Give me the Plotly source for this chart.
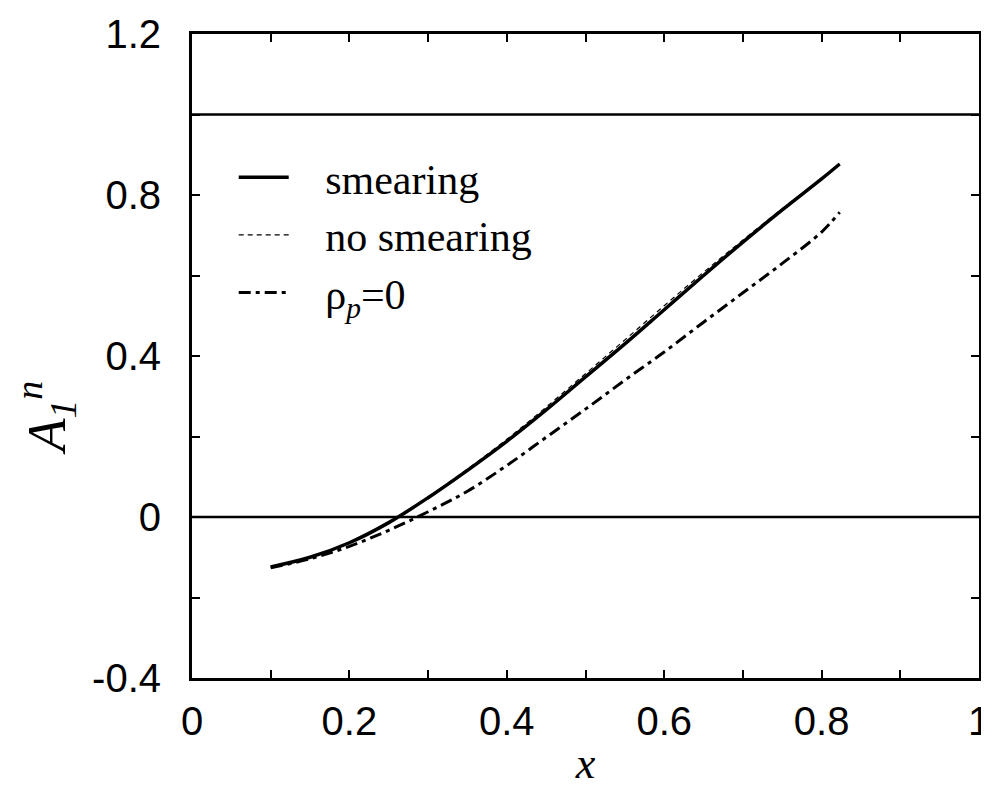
import plotly.graph_objects as go

x_vals = [0.10, 0.15, 0.20, 0.25, 0.30, 0.35, 0.40, 0.45, 0.50, 0.55, 0.60, 0.65, 0.70, 0.75, 0.80, 0.823]
smearing = [-0.124, -0.100, -0.064, -0.014, 0.048, 0.116, 0.188, 0.266, 0.348, 0.430, 0.515, 0.600, 0.683, 0.763, 0.840, 0.877]
no_smearing = [-0.124, -0.100, -0.063, -0.012, 0.050, 0.119, 0.193, 0.273, 0.356, 0.440, 0.525, 0.608, 0.688, 0.766, 0.840, 0.877]
rho_zero = [-0.126, -0.104, -0.073, -0.033, 0.013, 0.064, 0.128, 0.198, 0.268, 0.340, 0.410, 0.484, 0.557, 0.630, 0.708, 0.757]

y_ticks = [-0.4, -0.2, 0.0, 0.2, 0.4, 0.6, 0.8, 1.0, 1.2]
y_ticktext = ["-0.4", "", "0", "", "0.4", "", "0.8", "", "1.2"]
x_ticks = [0.0, 0.1, 0.2, 0.3, 0.4, 0.5, 0.6, 0.7, 0.8, 0.9, 1.0]
x_ticktext = ["0", "", "0.2", "", "0.4", "", "0.6", "", "0.8", "", "1"]
ref_levels = [0.0, 1.0]

gap = "&nbsp;" * 3

fig = go.Figure()
fig.add_trace(go.Scatter(x=x_vals, y=smearing, mode="lines", name=gap + "smearing",
                         line=dict(color="black", width=3.5, shape="spline")))
fig.add_trace(go.Scatter(x=x_vals, y=no_smearing, mode="lines", name=gap + "no smearing",
                         line=dict(color="black", width=1.2, dash="5px,4px", shape="spline")))
fig.add_trace(go.Scatter(x=x_vals, y=rho_zero, mode="lines", name=gap + "ρ<sub><i>p</i></sub>=0",
                         line=dict(color="black", width=3, dash="12px,5px,4px,5px", shape="spline")))

for lv in ref_levels:
    fig.add_hline(y=lv, line=dict(color="black", width=2.5))

axis_common = dict(showgrid=False, zeroline=False, showline=True, linecolor="black",
                   linewidth=3, mirror="ticks", ticks="inside", ticklen=8, tickwidth=2,
                   tickcolor="black", automargin=False, ticklabeloverflow="allow",
                   tickfont=dict(family="Liberation Sans", size=40, color="black"))

fig.update_xaxes(range=[0, 1], tickvals=x_ticks, ticktext=x_ticktext, ticklabelstandoff=6,
                 title=dict(text="<i>x</i>", font=dict(family="Liberation Serif", size=44, color="black"), standoff=6),
                 **axis_common)
fig.update_yaxes(range=[-0.4, 1.2], tickvals=y_ticks, ticktext=y_ticktext, ticklabelstandoff=20,
                 **axis_common)

fig.add_annotation(text="<i>A</i><sub><i>1</i></sub><sup><i>n</i></sup>", xref="paper", yref="paper",
                   x=-0.185, y=0.405, xanchor="center", yanchor="middle",
                   textangle=-90, showarrow=False, borderpad=0,
                   font=dict(family="Liberation Serif", size=54, color="black"))

fig.update_layout(
    width=981, height=791,
    margin=dict(l=184, r=10, t=26, b=121),
    plot_bgcolor="white", paper_bgcolor="white",
    legend=dict(x=0.053, y=0.83, xanchor="left", yanchor="top",
                font=dict(family="Liberation Serif", size=42, color="black"),
                bgcolor="rgba(0,0,0,0)", itemwidth=50, tracegroupgap=0),
)

fig.write_html("out.html")
